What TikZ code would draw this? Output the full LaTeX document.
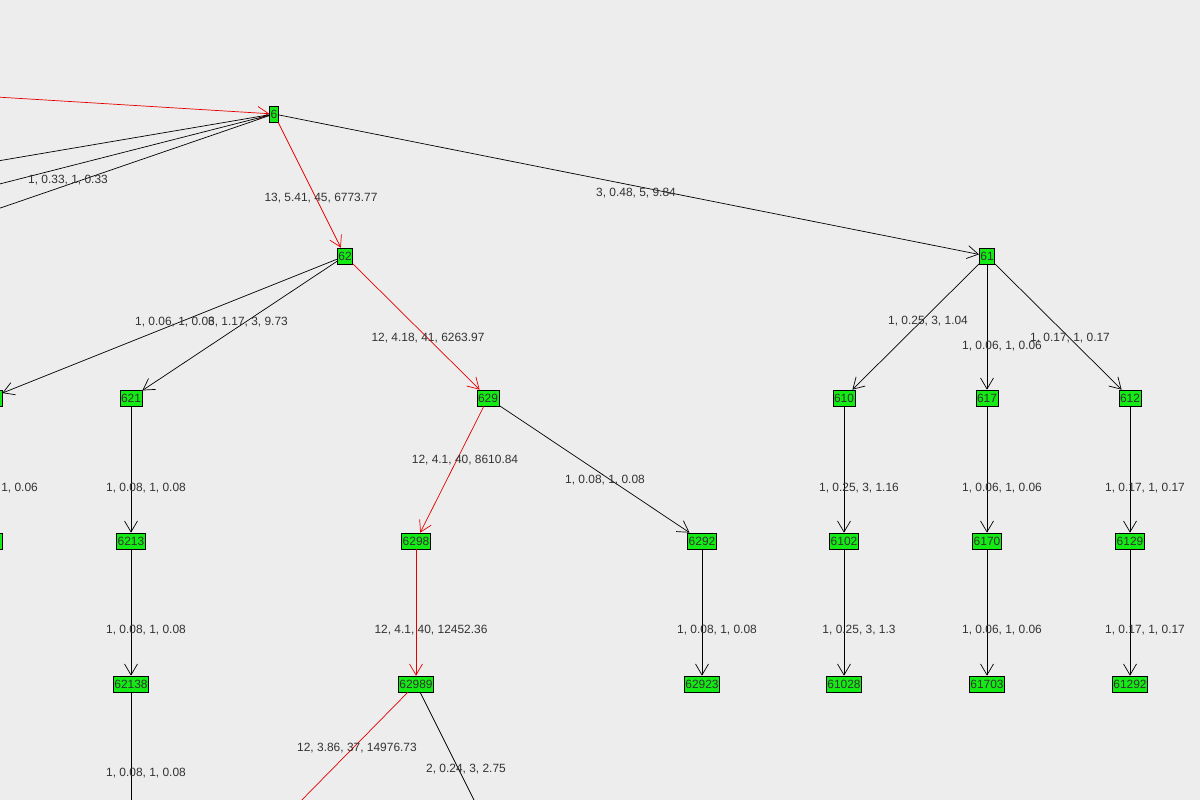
\documentclass[tikz,border=0pt]{standalone}
\usepackage{fontspec}
\setmainfont{Liberation Sans}
\usetikzlibrary{arrows.meta}
\definecolor{ng}{RGB}{20,235,20}
\begin{document}
\begin{tikzpicture}[x=0.02cm,y=-0.02cm,
  nd/.style={draw=black,fill=ng,inner sep=0.6pt,minimum height=0.32cm,font=\fontsize{6.8}{7.5}\selectfont,text=black!80},
  lb/.style={font=\fontsize{6.8}{7.5}\selectfont,text=black!80},
  ed/.style={draw=black,-{Straight Barb[length=2.2mm,width=2.6mm]}},
  hot/.style={ed,draw=red!90!black}]
\useasboundingbox (0,0) rectangle (1200,800);
\fill[black!7] (0,0) rectangle (1200,800);
\clip (0,0) rectangle (1200,800);
\node[nd,minimum width=0.16cm] (n6) at (274,114) {6};
\node[nd] (n62) at (345,256) {62};
\node[nd] (n61) at (987,256) {61};
\node[nd,minimum width=0.48cm] (nL1) at (-10,398) {};
\node[nd] (n621) at (131,398) {621};
\node[nd] (n629) at (488,398) {629};
\node[nd] (n610) at (844,398) {610};
\node[nd] (n617) at (987,398) {617};
\node[nd] (n612) at (1130,398) {612};
\node[nd,minimum width=0.48cm] (nL2) at (-10,541) {};
\node[nd] (n6213) at (131,541) {6213};
\node[nd] (n6298) at (416,541) {6298};
\node[nd] (n6292) at (702,541) {6292};
\node[nd] (n6102) at (844,541) {6102};
\node[nd] (n6170) at (987,541) {6170};
\node[nd] (n6129) at (1130,541) {6129};
\node[nd] (n62138) at (131,684) {62138};
\node[nd] (n62989) at (416,684) {62989};
\node[nd] (n62923) at (702,684) {62923};
\node[nd] (n61028) at (844,684) {61028};
\node[nd] (n61703) at (987,684) {61703};
\node[nd] (n61292) at (1130,684) {61292};
\coordinate (a0) at (-20,96);
\coordinate (b1) at (-20,164);
\coordinate (b2) at (-20,189);
\coordinate (b3) at (-20,215);
\coordinate (c1) at (131,830);
\coordinate (c2) at (290,812);
\coordinate (c3) at (480,812);
\draw[hot] (a0) -- (n6);
\draw (n6) -- (b1); \draw (n6) -- (b2); \draw (n6) -- (b3);
\draw[hot] (n6) -- (n62);
\draw[ed] (n6) -- (n61);
\draw[ed] (n62) -- (nL1);
\draw[ed] (n62) -- (n621);
\draw[hot] (n62) -- (n629);
\draw[ed] (n61) -- (n610);
\draw[ed] (n61) -- (n617);
\draw[ed] (n61) -- (n612);
\draw[ed] (nL1) -- (nL2);
\draw[ed] (n621) -- (n6213);
\draw[hot] (n629) -- (n6298);
\draw[ed] (n629) -- (n6292);
\draw[ed] (n610) -- (n6102);
\draw[ed] (n617) -- (n6170);
\draw[ed] (n612) -- (n6129);
\draw[ed] (n6213) -- (n62138);
\draw[hot] (n6298) -- (n62989);
\draw[ed] (n6292) -- (n62923);
\draw[ed] (n6102) -- (n61028);
\draw[ed] (n6170) -- (n61703);
\draw[ed] (n6129) -- (n61292);
\draw (n62138) -- (c1);
\draw[red!90!black] (n62989) -- (c2);
\draw (n62989) -- (c3);
\node[lb] (l1) at (68,180) {1, 0.33, 1, 0.33};
\node[lb] (l2) at (321,198) {13, 5.41, 45, 6773.77};
\node[lb] (l3) at (636,193) {3, 0.48, 5, 9.84};
\node[lb] (l4) at (175,322) {1, 0.06, 1, 0.06};
\node[lb] (l5) at (248,322) {3, 1.17, 3, 9.73};
\node[lb] (l6) at (428,338) {12, 4.18, 41, 6263.97};
\node[lb] (l7) at (928,321) {1, 0.25, 3, 1.04};
\node[lb] (l8) at (1002,346) {1, 0.06, 1, 0.06};
\node[lb] (l9) at (1070,338) {1, 0.17, 1, 0.17};
\node[lb] (l10) at (465,460) {12, 4.1, 40, 8610.84};
\node[lb] (l11) at (605,480) {1, 0.08, 1, 0.08};
\node[lb] (l12) at (-2,488) {1, 0.06, 1, 0.06};
\node[lb] (l13) at (146,488) {1, 0.08, 1, 0.08};
\node[lb] (l14) at (859,488) {1, 0.25, 3, 1.16};
\node[lb] (l15) at (1002,488) {1, 0.06, 1, 0.06};
\node[lb] (l16) at (1145,488) {1, 0.17, 1, 0.17};
\node[lb] (l17) at (146,630) {1, 0.08, 1, 0.08};
\node[lb] (l18) at (431,630) {12, 4.1, 40, 12452.36};
\node[lb] (l19) at (717,630) {1, 0.08, 1, 0.08};
\node[lb] (l20) at (859,630) {1, 0.25, 3, 1.3};
\node[lb] (l21) at (1002,630) {1, 0.06, 1, 0.06};
\node[lb] (l22) at (1145,630) {1, 0.17, 1, 0.17};
\node[lb] (l23) at (146,773) {1, 0.08, 1, 0.08};
\node[lb] (l24) at (357,748) {12, 3.86, 37, 14976.73};
\node[lb] (l25) at (466,769) {2, 0.24, 3, 2.75};
\end{tikzpicture}
\end{document}
